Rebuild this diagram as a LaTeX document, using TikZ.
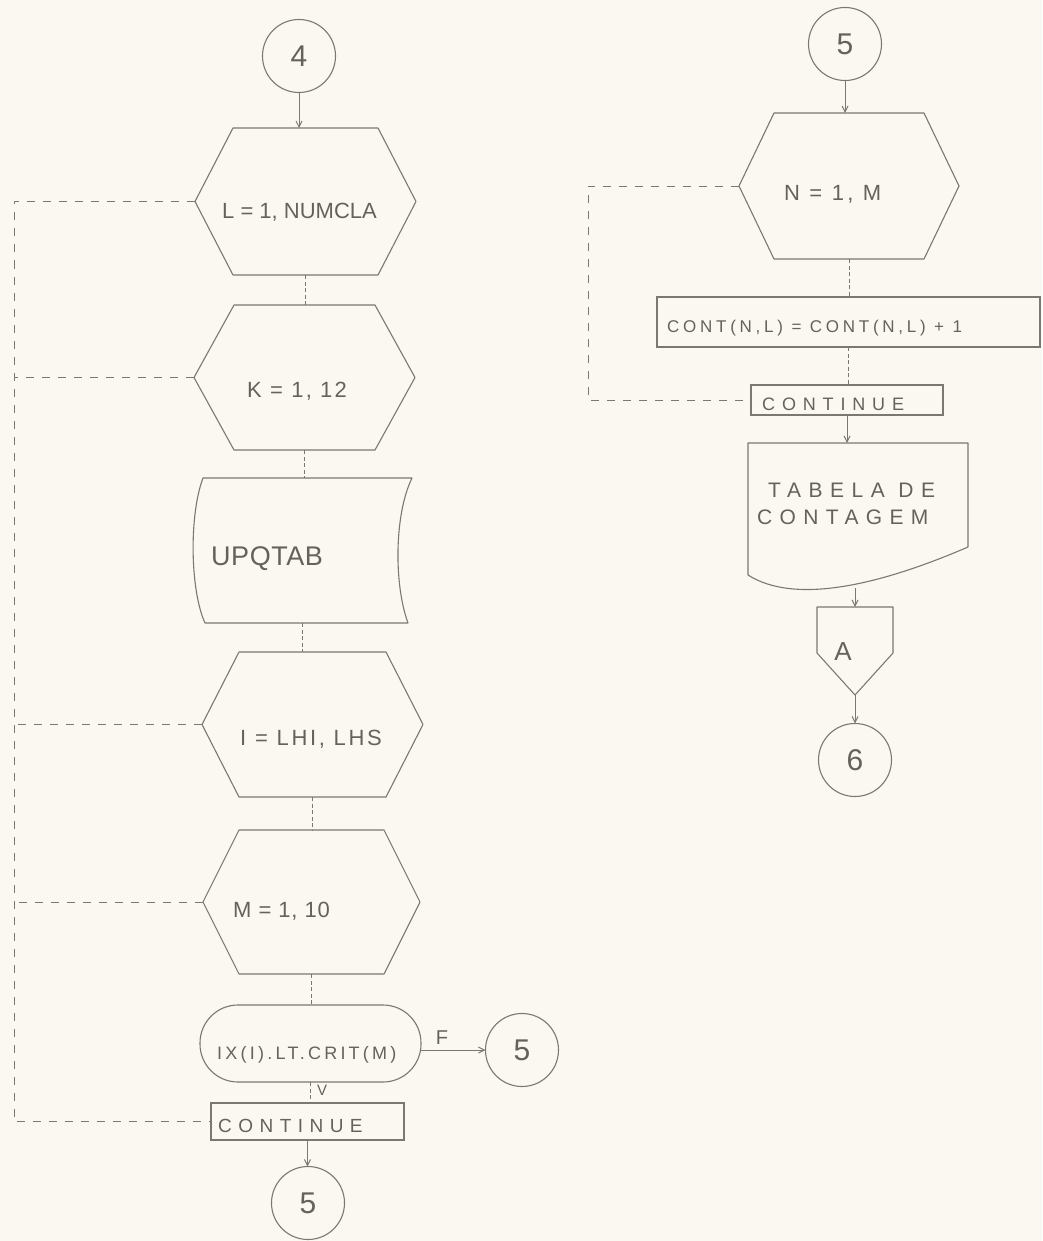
\documentclass[tikz,border=0pt]{standalone}
\usepackage{fontspec}
\setmainfont{Liberation Sans}
\usetikzlibrary{arrows.meta,calc}
\definecolor{paper}{RGB}{250,248,241}
\definecolor{ink}{RGB}{122,120,112}
\definecolor{txtink}{RGB}{100,98,92}
\newcommand\hwf[2]{\fontsize{#1}{#1}\selectfont\addfontfeature{LetterSpace=#2}}
\newcommand\hexat[6]{%
  \node[frame, minimum width=#4pt, minimum height=#5pt] (#1) at (#2,#3) {};
  \draw[shp] (#1.west) -- ([xshift=#6pt]#1.north west) -- ([xshift=-#6pt]#1.north east) -- (#1.east) -- ([xshift=-#6pt]#1.south east) -- ([xshift=#6pt]#1.south west) -- cycle;}
\begin{document}
\begin{tikzpicture}[x=1pt,y=-1pt,
  frame/.style={rectangle, inner sep=0pt, outer sep=0pt, draw=none},
  shp/.style={draw=ink, line width=1.1pt, line join=round},
  boxs/.style={rectangle, draw=ink, line width=1.1pt, inner sep=0pt, outer sep=0pt},
  circ/.style={circle, draw=ink, line width=1.1pt, minimum size=73pt, inner sep=0pt, outer sep=0pt, text=txtink, font=\hwf{30}{0}},
  conn/.style={draw=ink, line width=0.8pt, dash pattern=on 4pt off 2.5pt},
  dashloop/.style={draw=ink, line width=0.8pt, dash pattern=on 8pt off 8pt},
  arr/.style={draw=ink, line width=1pt, -{Straight Barb[length=6pt,width=6pt]}},
  txt/.style={inner sep=0pt, text=txtink, anchor=west}]
\fill[paper] (0,0) rectangle (1042,1241);
\useasboundingbox (0,0) rectangle (1042,1241);

% ---------- left column ----------
\node[circ] (c4) at (299,56) {4};
\hexat{hex1}{305.5}{201.5}{221}{147}{38}
\hexat{hex2}{304.5}{377.5}{221}{145}{40}
\node[frame, minimum width=219pt, minimum height=145pt] (upq) at (302.5,550.5) {};
\draw[shp] (203,478) -- (412,478) .. controls (394,515) and (394,585) .. (408,623) -- (205,623) .. controls (190,590) and (189,515) .. (203,478) -- cycle;
\hexat{hex3}{312.5}{724.5}{221}{145}{37}
\hexat{hex4}{311.5}{902}{217}{144}{36}
\node[shp, rectangle, rounded corners=38pt, minimum width=221pt, minimum height=77pt, inner sep=0pt, outer sep=0pt] (term) at (310.5,1043.5) {};
\node[circ] (c5a) at (522,1050) {5};
\node[boxs, minimum width=193pt, minimum height=37pt] (cont1) at (307.5,1121.5) {};
\node[circ] (c5b) at (308,1203) {5};

\node[txt, font=\hwf{22}{0}] (t1) at (222,212) {L = 1, NUMCLA};
\node[txt, font=\hwf{22}{10}] (t2) at (247,391) {K = 1, 12};
\node[txt, font=\hwf{27}{2}] (t3) at (211,559) {UPQTAB};
\node[txt, font=\hwf{22}{12}] (t4) at (240,739) {I = LHI, LHS};
\node[txt, font=\hwf{22}{4}] (t5) at (233,911) {M = 1, 10};
\node[txt, font=\hwf{18}{18}] (t6) at (217,1055) {IX(I).LT.CRIT(M)};
\node[txt, font=\hwf{19}{34}] (t7) at (218,1126) {CONTINUE};
\node[txt, anchor=center, font=\hwf{20}{0}] (tF) at (442,1038) {F};
\node[txt, anchor=center, font=\hwf{15}{0}] (tV) at (322,1090) {V};

\draw[arr] (c4.south) -- (c4.south |- hex1.north);
\draw[conn] (hex1.south) -- (hex1.south |- hex2.north);
\draw[conn] (hex2.south) -- (hex2.south |- upq.north);
\draw[conn] (upq.south) -- (upq.south |- hex3.north);
\draw[conn] (hex3.south) -- (hex3.south |- hex4.north);
\draw[conn] (hex4.south) -- (hex4.south |- term.north);
\draw[conn] (term.south) -- (term.south |- cont1.north);
\draw[arr] (cont1.south) -- (cont1.south |- c5b.north);
\draw[arr] (term.east |- c5a.west) -- (c5a.west);

\coordinate (lpt) at (14,201.5);
\draw[dashloop] (hex1.west) -- (lpt) |- (cont1.west);
\draw[dashloop] (hex2.west) -- (hex2.west -| lpt);
\draw[dashloop] (hex3.west) -- (hex3.west -| lpt);
\draw[dashloop] (hex4.west) -- (hex4.west -| lpt);

% ---------- right column ----------
\node[circ] (c5c) at (845,44) {5};
\hexat{hexR}{849}{186}{220}{146}{35}
\node[boxs, minimum width=383pt, minimum height=50pt] (cnt) at (848.5,322) {};
\node[boxs, minimum width=192pt, minimum height=30pt] (cont2) at (847,400) {};
\node[frame, minimum width=220pt, minimum height=145pt] (doc) at (858,515.5) {};
\draw[shp] (748,575) -- (748,443) -- (968,443) -- (968,547) .. controls (880,585) and (795,605) .. (748,575);
\node[frame, minimum width=76pt, minimum height=88pt] (offA) at (855,651) {};
\draw[shp] (offA.north west) -- (offA.north east) -- ([yshift=-46pt]offA.north east) -- (offA.south) -- ([yshift=-46pt]offA.north west) -- cycle;
\node[circ] (c6) at (855,760) {6};

\node[txt, font=\hwf{22}{15}] (t8) at (784,194) {N = 1, M};
\node[txt, font=\hwf{17}{22}] (t9) at (667,328) {CONT(N,L) = CONT(N,L) + 1};
\node[txt, font=\hwf{18}{38}] (t10) at (762,404) {CONTINUE};
\node[txt, font=\hwf{21}{36}] (t11) at (768,490) {TABELA DE};
\node[txt, font=\hwf{21}{35}] (t12) at (757,517) {CONTAGEM};
\node[txt, anchor=center, font=\hwf{26}{0}] (tA) at (843,652) {A};

\draw[arr] (c5c.south) -- (c5c.south |- hexR.north);
\draw[conn] (hexR.south) -- (hexR.south |- cnt.north);
\draw[conn] (cnt.south) -- (cnt.south |- cont2.north);
\draw[arr] (cont2.south) -- (cont2.south |- doc.north);
\draw[arr] (offA.north |- doc.south) -- (offA.north);
\draw[arr] (offA.south) -- (c6.north);

\coordinate (rpt) at (588,186);
\draw[dashloop] (hexR.west) -- (rpt) |- (cont2.west);
\end{tikzpicture}
\end{document}
